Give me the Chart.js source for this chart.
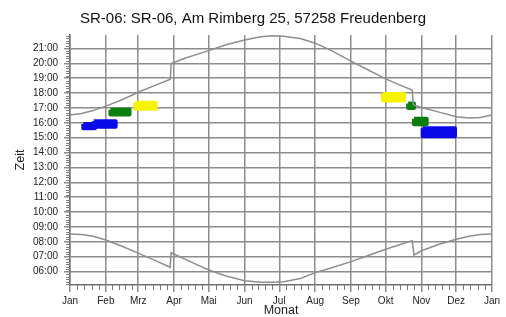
<!DOCTYPE html>
<html>
<head>
<meta charset="utf-8">
<script src="https://cdn.jsdelivr.net/npm/chart.js@4.4.0/dist/chart.umd.min.js"></script>
<style>
  html, body { margin: 0; padding: 0; background: #fff; }
</style>
</head>
<body>
<canvas id="myChart" width="506" height="317"></canvas>
<script>
// Monatsanfaenge (Tag im Jahr) und Beschriftung
const monthDays = [0, 31, 59, 90, 120, 151, 181, 212, 243, 273, 304, 334, 365];
const monthLabels = ['Jan', 'Feb', 'Mrz', 'Apr', 'Mai', 'Jun', 'Jul', 'Aug', 'Sep', 'Okt', 'Nov', 'Dez', 'Jan'];

const hourTicks = [6, 7, 8, 9, 10, 11, 12, 13, 14, 15, 16, 17, 18, 19, 20, 21];
const hourLabels = ['06:00', '07:00', '08:00', '09:00', '10:00', '11:00', '12:00', '13:00',
                    '14:00', '15:00', '16:00', '17:00', '18:00', '19:00', '20:00', '21:00'];

// Sonnenuntergang (obere Kurve), Stunden dezimal
const sunsetDays  = [0, 10, 20, 31, 45, 59, 73, 86.8, 87.5, 100, 120, 135, 151, 165, 175, 185, 200, 212, 225, 243, 258, 273, 285, 296, 297, 304, 320, 334, 345, 355, 365];
const sunsetTimes = [16.53, 16.62, 16.82, 17.12, 17.55, 18.05, 18.5, 18.93, 19.98, 20.35, 20.85, 21.25, 21.57, 21.78, 21.85, 21.82, 21.65, 21.35, 20.9, 20.15, 19.55, 18.95, 18.55, 18.2, 17.2, 17.03, 16.7, 16.4, 16.32, 16.36, 16.53];

// Sonnenaufgang (untere Kurve)
const sunriseDays  = [0, 10, 20, 31, 45, 59, 73, 86.5, 87.5, 104, 120, 135, 151, 165, 175, 185, 200, 212, 225, 243, 258, 273, 285, 296, 297.5, 304, 320, 334, 345, 355, 365];
const sunriseTimes = [8.53, 8.5, 8.38, 8.12, 7.7, 7.24, 6.77, 6.29, 7.27, 6.67, 6.11, 5.7, 5.39, 5.29, 5.28, 5.32, 5.55, 5.93, 6.23, 6.67, 7.08, 7.5, 7.8, 8.08, 7.12, 7.4, 7.85, 8.18, 8.38, 8.5, 8.53];

// Schattenzeiten: von/bis Tag, von/bis Uhrzeit, Gruppe
const blobDayFrom  = [11.5, 20.5, 35, 56.5, 270.5, 292.5, 297.5, 305];
const blobDayTo    = [21.6, 39.5, 51.5, 74, 289, 297.5, 308.5, 333];
const blobTimeLow  = [15.63, 15.73, 16.55, 16.95, 17.5, 17.0, 15.9, 15.1];
const blobTimeHigh = [15.92, 16.1, 16.87, 17.35, 17.93, 17.3, 16.28, 15.63];
const blobGroup    = [0, 0, 1, 2, 2, 1, 1, 0];

const groupColors = ['#0a0ae8', '#0b7f0b', '#f6f200'];
const curveColor = '#8e8e8e';
const gridColor = '#8c8c8c';

Chart.defaults.font.family = "'Liberation Sans', Arial, sans-serif";
Chart.defaults.color = '#222';

const datasets = [
    {
        data: sunsetDays.map((d, i) => ({x: d, y: sunsetTimes[i]})),
        borderColor: curveColor, borderWidth: 1.5, pointRadius: 0, fill: false, tension: 0
    },
    {
        data: sunriseDays.map((d, i) => ({x: d, y: sunriseTimes[i]})),
        borderColor: curveColor, borderWidth: 1.5, pointRadius: 0, fill: false, tension: 0
    }
];

for (let i = 0; i < blobDayFrom.length; i++) {
    const c = groupColors[blobGroup[i]];
    const a = blobDayFrom[i], b = blobDayTo[i], lo = blobTimeLow[i], hi = blobTimeHigh[i];
    datasets.push({
        data: [{x: a, y: hi}, {x: b, y: hi}, {x: b, y: lo}, {x: a, y: lo}, {x: a, y: hi}],
        fill: 'shape',
        backgroundColor: c, borderColor: c, borderWidth: 4,
        borderJoinStyle: 'round', pointRadius: 0
    });
}

// kleine Zwischenstriche an den Achsen
const minorTicks = {
    id: 'minorTicks',
    afterDraw(chart) {
        const {ctx, scales: {x, y}} = chart;
        ctx.save();
        ctx.strokeStyle = '#7a7a7a';
        ctx.lineWidth = 1;
        ctx.beginPath();
        for (let m = Math.ceil(y.min * 6); m <= y.max * 6; m++) {
            if (m % 6 === 0) continue;
            const py = Math.round(y.getPixelForValue(m / 6)) + 0.5;
            ctx.moveTo(x.left - 4, py);
            ctx.lineTo(x.left, py);
        }
        for (let i = 0; i < monthDays.length - 1; i++) {
            const len = monthDays[i + 1] - monthDays[i];
            for (let k = 1; k < 5; k++) {
                const px = Math.round(x.getPixelForValue(monthDays[i] + len * k / 5)) + 0.5;
                ctx.moveTo(px, y.bottom);
                ctx.lineTo(px, y.bottom + 5);
            }
        }
        ctx.stroke();
        ctx.restore();
    }
};

var ctx = document.getElementById('myChart').getContext('2d');
var myChart = new Chart(ctx, {
    type: 'line',
    data: { datasets: datasets },
    plugins: [minorTicks],
    options: {
        responsive: false,
        animation: false,
        devicePixelRatio: 1,
        layout: { padding: 0 },
        plugins: {
            legend: { display: false },
            tooltip: { enabled: false },
            title: {
                display: true,
                text: 'SR-06: SR-06, Am Rimberg 25, 57258 Freudenberg',
                color: '#111',
                font: { size: 15, weight: 'normal' },
                padding: { top: 9.5, bottom: 7.5 }
            }
        },
        scales: {
            x: {
                type: 'linear',
                min: 0,
                max: 365,
                afterBuildTicks: s => { s.ticks = monthDays.map(v => ({value: v})); },
                afterFit: s => { s.height = 32; s.paddingRight = 14; },
                ticks: {
                    callback: (v, i) => monthLabels[i],
                    font: { size: 10 },
                    padding: 3,
                    maxRotation: 0,
                    autoSkip: false
                },
                grid: { color: gridColor, lineWidth: 1.5, tickLength: 7 },
                border: { color: '#707070', width: 1.5 },
                title: {
                    display: true,
                    text: 'Monat',
                    font: { size: 12.5, lineHeight: 1 },
                    padding: 0
                }
            },
            y: {
                type: 'linear',
                min: 5.1,
                max: 21.9,
                afterBuildTicks: s => { s.ticks = hourTicks.map(v => ({value: v})); },
                afterFit: s => { s.width = 70; },
                ticks: {
                    callback: (v, i) => hourLabels[i],
                    font: { size: 10 },
                    padding: 6
                },
                grid: { color: gridColor, lineWidth: 1.5, tickLength: 6 },
                border: { color: '#707070', width: 1.5 },
                title: {
                    display: true,
                    text: 'Zeit',
                    font: { size: 12.5 },
                    padding: { top: 13.5, bottom: 0 }
                }
            }
        }
    }
});
</script>
</body>
</html>
